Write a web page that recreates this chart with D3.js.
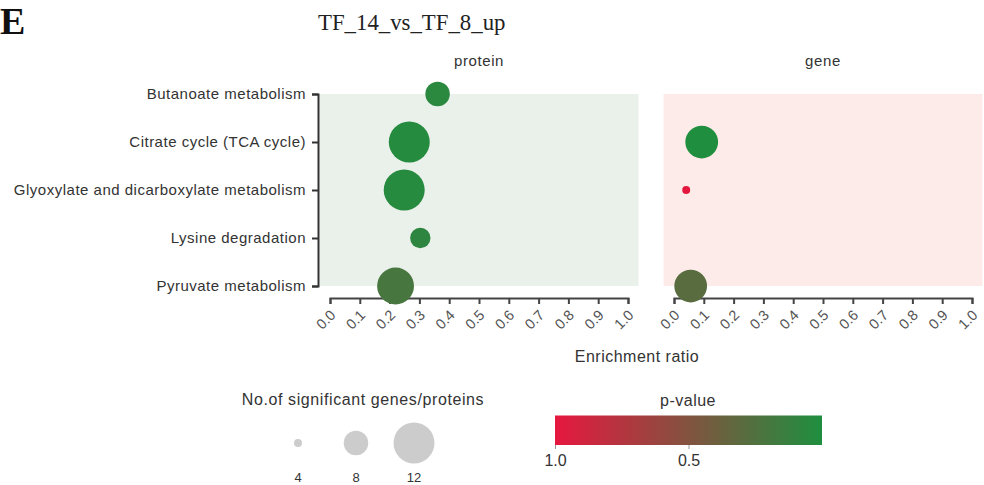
<!DOCTYPE html>
<html>
<head>
<meta charset="utf-8">
<script src="https://cdn.jsdelivr.net/npm/d3@7"></script>
<style>
  html, body { margin: 0; padding: 0; background: #fff; }
  svg { display: block; font-family: Arial, "Liberation Sans", sans-serif; }
</style>
</head>
<body>
<svg id="chart" width="984" height="485"></svg>
<script>
// KEGG pathway enrichment, TF_14 vs TF_8 (up-regulated)
const categories = [
  "Butanoate metabolism",
  "Citrate cycle (TCA cycle)",
  "Glyoxylate and dicarboxylate metabolism",
  "Lysine degradation",
  "Pyruvate metabolism"
];

// protein facet
const proteinPathways = categories;
const proteinRatio = [0.361, 0.266, 0.249, 0.303, 0.220];
const proteinCount = [8, 12, 12, 7, 11];
const proteinPValue = [0.06, 0.03, 0.04, 0.08, 0.21];

// gene facet
const genePathways = ["Citrate cycle (TCA cycle)", "Glyoxylate and dicarboxylate metabolism", "Pyruvate metabolism"];
const geneRatio = [0.093, 0.041, 0.056];
const geneCount = [10, 4, 10];
const genePValue = [0.01, 0.99, 0.29];

const xTicks = [0, 0.1, 0.2, 0.3, 0.4, 0.5, 0.6, 0.7, 0.8, 0.9, 1.0];
const sizeLegendCounts = [4, 8, 12];
const pLegendTicks = [1.0, 0.5];

const svg = d3.select("#chart");
const sans = "Arial, 'Liberation Sans', sans-serif";

// panel label and title
svg.append("text").attr("x", 0).attr("y", 34)
  .attr("font-family", "'Liberation Serif', 'Times New Roman', serif")
  .attr("font-size", 38).attr("font-weight", "bold").attr("fill", "#111").text("E");
svg.append("text").attr("x", 318).attr("y", 30)
  .attr("font-family", "'Liberation Serif', 'Times New Roman', serif")
  .attr("font-size", 22.8).attr("fill", "#222").text("TF_14_vs_TF_8_up");

const y = d3.scalePoint().domain(categories).range([94, 286]);
const r = d3.scaleLinear().domain([4, 12]).range([4, 20.5]);
const color = d3.scaleLinear().domain([0, 1]).range(["#1e8f3f", "#e6173f"]).interpolate(d3.interpolateRgb);

const panels = [
  { name: "protein", x0: 330, x1: 628, bg: "#eaf0ea", paths: proteinPathways, ratio: proteinRatio, count: proteinCount, p: proteinPValue },
  { name: "gene", x0: 674, x1: 972, bg: "#fdebea", paths: genePathways, ratio: geneRatio, count: geneCount, p: genePValue }
];

panels.forEach(pn => {
  const x = d3.scaleLinear().domain([0, 1]).range([pn.x0, pn.x1]);
  const pad = 10.5;
  svg.append("rect")
    .attr("x", x(0) - pad).attr("y", y(categories[0]))
    .attr("width", x(1) - x(0) + 2 * pad)
    .attr("height", y(categories[categories.length - 1]) - y(categories[0]))
    .attr("fill", pn.bg);

  svg.append("text").attr("x", (pn.x0 + pn.x1) / 2).attr("y", 66)
    .attr("text-anchor", "middle").attr("font-size", 15).attr("letter-spacing", 0.6)
    .attr("fill", "#333").text(pn.name);

  const gx = svg.append("g").attr("transform", "translate(0,298)")
    .call(d3.axisBottom(x).tickValues(xTicks).tickFormat(d3.format(".1f")).tickSizeOuter(6));
  gx.select(".domain").attr("stroke", "#444").attr("stroke-width", 2);
  gx.selectAll(".tick line").attr("stroke", "#444").attr("stroke-width", 2);
  gx.selectAll(".tick text")
    .attr("font-size", 14.5).attr("fill", "#555").attr("font-family", sans)
    .style("text-anchor", "end")
    .attr("x", 0).attr("y", 0).attr("dy", 0)
    .attr("transform", "translate(6,18) rotate(-45)");

  const pts = pn.paths.map((c, i) => ({ c, ratio: pn.ratio[i], n: pn.count[i], p: pn.p[i] }));
  svg.append("g").selectAll("circle").data(pts).join("circle")
    .attr("cx", d => x(d.ratio)).attr("cy", d => y(d.c))
    .attr("r", d => r(d.n)).attr("fill", d => color(d.p));
});

// category axis
const gy = svg.append("g").attr("transform", "translate(318,0)")
  .call(d3.axisLeft(y).tickSizeOuter(0).tickSize(6).tickPadding(6));
gy.select(".domain").attr("stroke", "#333").attr("stroke-width", 2);
gy.selectAll(".tick line").attr("stroke", "#333").attr("stroke-width", 2);
gy.selectAll(".tick text").attr("font-size", 15).attr("letter-spacing", 0.5).attr("fill", "#333")
  .attr("font-family", sans);

svg.append("text").attr("x", 637).attr("y", 362).attr("text-anchor", "middle")
  .attr("font-size", 16).attr("letter-spacing", 0.5).attr("fill", "#333").text("Enrichment ratio");

// size legend
svg.append("text").attr("x", 363).attr("y", 405).attr("text-anchor", "middle")
  .attr("font-size", 16).attr("letter-spacing", 0.6).attr("fill", "#333").text("No.of significant genes/proteins");
const sizeX = d3.scalePoint().domain(sizeLegendCounts).range([298, 414]);
svg.append("g").selectAll("circle").data(sizeLegendCounts).join("circle")
  .attr("cx", d => sizeX(d)).attr("cy", 443).attr("r", d => r(d)).attr("fill", "#cccccc");
svg.append("g").selectAll("text").data(sizeLegendCounts).join("text")
  .attr("x", d => sizeX(d)).attr("y", 482).attr("text-anchor", "middle")
  .attr("font-size", 13).attr("fill", "#333").text(d => d);

// p-value colour bar
const defs = svg.append("defs");
const grad = defs.append("linearGradient").attr("id", "pgrad");
d3.range(0, 1.0001, 0.1).forEach(t => {
  grad.append("stop").attr("offset", t).attr("stop-color", color(1 - t));
});
const pScale = d3.scaleLinear().domain([1, 0]).range([555, 822]);
svg.append("text").attr("x", 688).attr("y", 406).attr("text-anchor", "middle")
  .attr("font-size", 16).attr("letter-spacing", 0.5).attr("fill", "#333").text("p-value");
svg.append("rect").attr("x", pScale(1)).attr("y", 415.5)
  .attr("width", pScale(0) - pScale(1)).attr("height", 29.5).attr("fill", "url(#pgrad)");
const gp = svg.append("g").attr("transform", "translate(0,445)")
  .call(d3.axisBottom(pScale).tickValues(pLegendTicks).tickFormat(d3.format(".1f")).tickSize(4).tickPadding(6));
gp.select(".domain").remove();
gp.selectAll(".tick line").attr("stroke", "#999");
gp.selectAll(".tick text").attr("font-size", 16).attr("fill", "#333").attr("font-family", sans);
</script>
</body>
</html>
